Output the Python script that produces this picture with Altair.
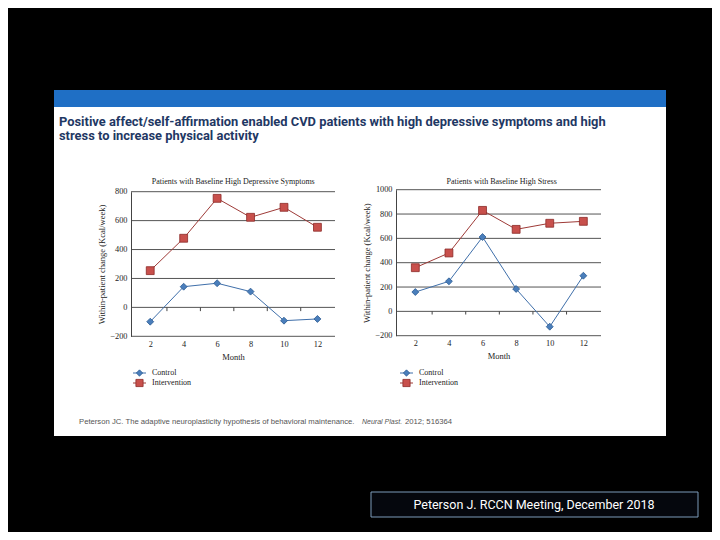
import altair as alt
import pandas as pd

# ---------------- data ----------------
months = [2, 4, 6, 8, 10, 12]
series = ["Control", "Intervention"]
dep_control = [-99, 143, 167, 109, -92, -80]
dep_intervention = [254, 478, 754, 623, 692, 554]
stress_control = [159, 247, 611, 184, -126, 293]
stress_intervention = [359, 480, 830, 674, 724, 740]
dep_ticks = [-200, 0, 200, 400, 600, 800]
stress_ticks = [-200, 0, 200, 400, 600, 800, 1000]
month_ticks = [2, 4, 6, 8, 10, 12]
category_edges = [3, 5, 7, 9, 11]

slide_title_1 = "Positive affect/self-affirmation enabled CVD patients with high depressive symptoms and high"
slide_title_2 = "stress to increase physical activity"
dep_title = "Patients with Baseline High Depressive Symptoms"
stress_title = "Patients with Baseline High Stress"
y_title = "Within-patient change (Kcal/week)"
x_title = "Month"
cite_1 = "Peterson JC. The adaptive neuroplasticity hypothesis of behavioral maintenance."
cite_2 = "Neural Plast."
cite_3 = "2012;  516364"
footer = "Peterson J. RCCN Meeting, December 2018"

# ---------------- styles ----------------
W, H = 704, 524
SERIF = "Liberation Serif, DejaVu Serif, serif"
NARROW = "Roboto, sans-serif"
SANS = "Liberation Sans, Arial, sans-serif"
BLUE_FILL, BLUE_STROKE, BLUE_LINE = "#4A7EBB", "#2B5A92", "#3F6FAA"
RED_FILL, RED_STROKE, RED_LINE = "#C8504C", "#8B2A27", "#9E3A37"
GRID = "#555555"

one = pd.DataFrame({"k": [0]})


def box(x1, x2, y1, y2, **kw):
    return alt.Chart(one).mark_rect(**kw).encode(
        x=alt.value(x1), x2=alt.value(x2), y=alt.value(y1), y2=alt.value(y2))


def label(x, y, txt, **kw):
    return alt.Chart(one).mark_text(text=txt, **kw).encode(x=alt.value(x), y=alt.value(y))


def panel(ctrl, intv, ticks, xr, yr, ydom):
    xs = alt.Scale(domain=[0.85, 13.05], range=xr, nice=False, zero=False)
    ys = alt.Scale(domain=ydom, range=yr, nice=False, zero=False)
    xaxis = alt.Axis(orient="bottom", offset=yr[0] - H, values=month_ticks, domain=False,
                     ticks=False, grid=False, labelFont=SERIF, labelFontSize=8.3,
                     labelColor="#222", labelPadding=3, title=x_title, titleFont=SERIF,
                     titleFontSize=8.5, titleFontWeight="normal", titleColor="#222",
                     titleY=20, titleBaseline="middle", zindex=1)
    yaxis = alt.Axis(orient="left", offset=-xr[0], values=ticks, format="d", domain=True,
                     domainColor="#444", domainWidth=1, ticks=False, grid=False,
                     labelFont=SERIF, labelFontSize=8.3, labelColor="#222", labelPadding=4,
                     title=y_title, titleFont=SERIF, titleFontSize=8.5,
                     titleFontWeight="normal", titleColor="#222", titleAngle=-90,
                     titleX=-30, titleY=(yr[0] + yr[1]) / 2, titleAlign="center",
                     titleBaseline="middle", zindex=1)
    X = lambda f: alt.X(f, scale=xs, axis=xaxis)
    Y = lambda f: alt.Y(f, scale=ys, axis=yaxis)

    grid = alt.Chart(pd.DataFrame({"value": ticks})).mark_rule(color=GRID, strokeWidth=1).encode(
        x=alt.X(datum=0.85, scale=xs, axis=xaxis), x2=alt.X2(datum=13.05),
        y=Y("value:Q"))
    edge = alt.Chart(pd.DataFrame({"month": category_edges})).mark_rule(color="#444", strokeWidth=1).encode(
        x=X("month:Q"), y=alt.Y(datum=0, scale=ys, axis=yaxis), y2=alt.Y2(datum=-26))
    dc = pd.DataFrame({"month": months, "value": ctrl})
    di = pd.DataFrame({"month": months, "value": intv})
    lc = alt.Chart(dc).mark_line(color=BLUE_LINE, strokeWidth=1).encode(x=X("month:Q"), y=Y("value:Q"))
    li = alt.Chart(di).mark_line(color=RED_LINE, strokeWidth=1).encode(x=X("month:Q"), y=Y("value:Q"))
    pc = alt.Chart(dc).mark_point(shape="diamond", filled=True, fill=BLUE_FILL, stroke=BLUE_STROKE,
                                  strokeWidth=0.8, opacity=1, size=48).encode(x=X("month:Q"), y=Y("value:Q"))
    pi = alt.Chart(di).mark_point(shape="square", filled=True, fill=RED_FILL, stroke=RED_STROKE,
                                  strokeWidth=0.8, opacity=1, size=62).encode(x=X("month:Q"), y=Y("value:Q"))
    return alt.layer(grid, edge, lc, li, pc, pi)


def legend(x0, y0):
    parts = []
    rows = [(series[0], BLUE_LINE, BLUE_FILL, BLUE_STROKE, "diamond", 40),
            (series[1], RED_LINE, RED_FILL, RED_STROKE, "square", 52)]
    for i, (name, lcol, fcol, scol, shp, sz) in enumerate(rows):
        y = y0 + i * 10
        parts.append(alt.Chart(one).mark_rule(color=lcol, strokeWidth=1).encode(
            x=alt.value(x0), x2=alt.value(x0 + 13), y=alt.value(y)))
        parts.append(alt.Chart(one).mark_point(shape=shp, filled=True, fill=fcol, stroke=scol,
                                               strokeWidth=0.8, opacity=1, size=sz).encode(
            x=alt.value(x0 + 6.5), y=alt.value(y)))
        parts.append(label(x0 + 19, y, name, font=SERIF, fontSize=8, color="#222",
                           align="left", baseline="middle"))
    return parts


left = panel(dep_control, dep_intervention, dep_ticks, [123, 327], [328.3, 183.7], [-200, 800])
right = panel(stress_control, stress_intervention, stress_ticks, [388, 593], [327.7, 181.7], [-200, 1000])

layers = [
    box(46, 658, 82, 428, color="white"),
    box(46, 658, 82, 99, color="#1F6FC5"),
    label(51, 117.5, slide_title_1, font=NARROW, fontSize=12.9, fontWeight="bold", color="#1F3864",
          align="left", baseline="alphabetic"),
    label(51, 131.5, slide_title_2, font=NARROW, fontSize=12.9, fontWeight="bold", color="#1F3864",
          align="left", baseline="alphabetic"),
    label(225.3, 174, dep_title, font=SERIF, fontSize=8, color="#222", align="center", baseline="middle"),
    label(493.7, 174, stress_title, font=SERIF, fontSize=8, color="#222", align="center", baseline="middle"),
    left,
    right,
    *legend(125, 365),
    *legend(392, 365),
    label(71, 415.5, cite_1, font=SANS, fontSize=7.7, color="#555", align="left", baseline="alphabetic"),
    label(354, 415.5, cite_2, font=SANS, fontSize=7.0, fontStyle="italic", color="#555", align="left",
          baseline="alphabetic"),
    label(397, 415.5, cite_3, font=SANS, fontSize=7.7, color="#555", align="left", baseline="alphabetic"),
    box(363, 690, 484, 509, color="#05070d", stroke="#7C9BBA", strokeWidth=1),
    label(526, 497, footer, font=NARROW, fontSize=12.5, color="white", align="center", baseline="middle"),
]

chart = alt.layer(*layers).resolve_scale(x="independent", y="independent").properties(
    width=W, height=H, autosize=alt.AutoSizeParams(type="none"), padding=0, background="black"
).configure_view(stroke=None)

chart.save("out.html", embed_options={"renderer": "svg", "actions": False})
